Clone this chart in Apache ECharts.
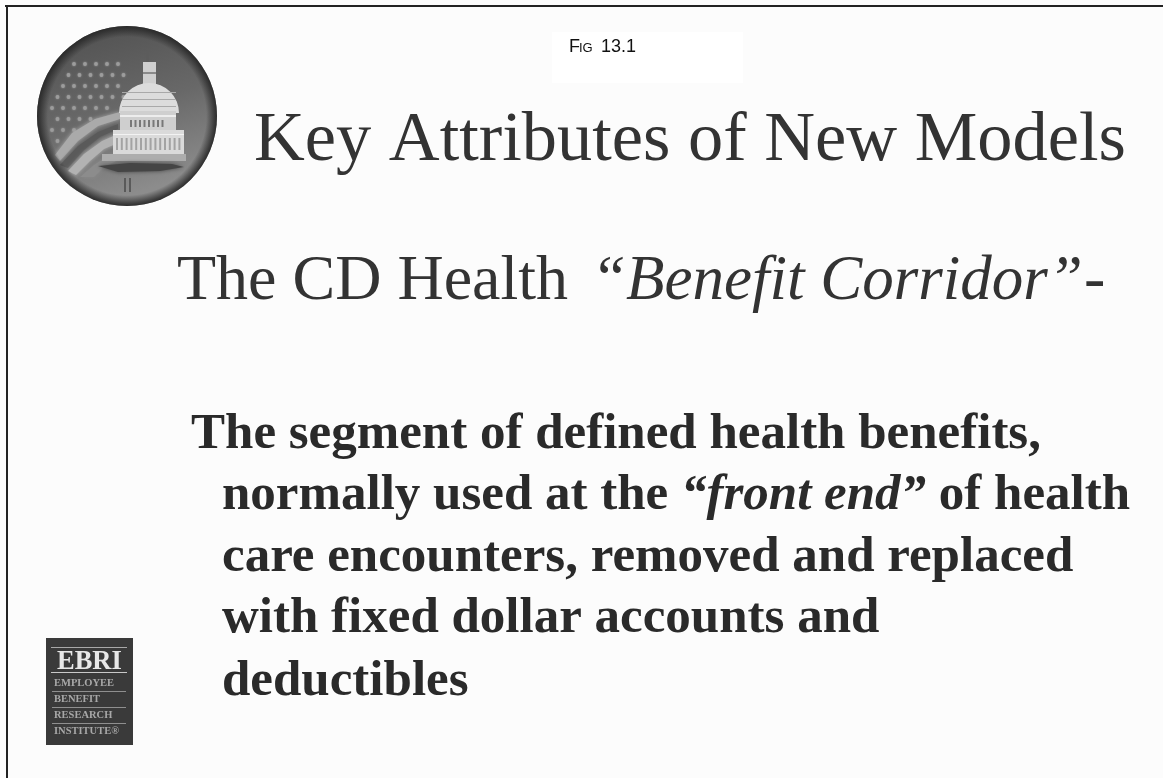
<!DOCTYPE html>
<html>
<head>
<meta charset="utf-8">
<title>Fig 13.1</title>
<script src="https://cdn.jsdelivr.net/npm/echarts@6/dist/echarts.min.js"></script>
<style>
  html, body { margin: 0; padding: 0; background: #fcfcfc; }
  #chart { width: 1163px; height: 778px; filter: blur(0.45px); }
</style>
</head>
<body>
<div id="chart"></div>
<script>
const SERIF = '"Liberation Serif", "Times New Roman", serif'
const SANS = '"Liberation Sans", Arial, sans-serif'
const INK = '#333333'
const BOLD_INK = '#2a2a2a'
const PAPER = '#fcfcfc'

const figLabel = ['F', 'IG', '13.1']
const titleText = 'Key Attributes of New Models'
const subtitleParts = ['The CD Health', '“Benefit Corridor”', '-']
const bodyLine1 = 'The segment of defined health benefits,'
const bodyLine2 = ['normally used at the ', '“front end”', ' of health']
const bodyLine3 = 'care encounters, removed and replaced'
const bodyLine4 = 'with fixed dollar accounts and'
const bodyLine5 = 'deductibles'
const logoName = 'EBRI'
const logoLines = ['EMPLOYEE', 'BENEFIT', 'RESEARCH', 'INSTITUTE®']

// y is the baseline, the 0.2 is the descent below it for Liberation
function text(str, x, y, size, extra) {
  return {
    type: 'text',
    x, y: y + size * 0.2,
    style: Object.assign({
      text: str, fontFamily: SERIF, fontSize: size, fill: INK, verticalAlign: 'bottom'
    }, extra)
  }
}

function bold(str, x, y) {
  return text(str, x, y, 51, { fontWeight: 'bold', fill: BOLD_INK })
}

function rich(parts, x, y, size) {
  const str = parts.map((p, i) => `{${i % 2 ? 'it' : 'n'}|${p}}`).join('')
  const base = { fontFamily: SERIF, fontSize: size, fontWeight: 'bold', fill: BOLD_INK }
  return {
    type: 'text',
    x, y: y - size * 0.81,
    style: { text: str, rich: { n: base, it: Object.assign({}, base, { fontStyle: 'italic' }) } }
  }
}

function box(x, y, width, height, fill) {
  return { type: 'rect', shape: { x, y, width, height }, style: { fill } }
}

// the round capitol seal, top left
function seal() {
  const els = [
    { type: 'circle', shape: { cx: 127, cy: 116, r: 90 }, style: {
      fill: { type: 'linear', x: 0, y: 0, x2: 0.3, y2: 1, colorStops: [
        { offset: 0, color: '#4e4e4e' }, { offset: 0.55, color: '#686868' }, { offset: 1, color: '#8c8c8c' }
      ] }
    } }
  ]
  // star field
  for (let row = 0; row < 8; row++) {
    for (let col = 0; col < 7; col++) {
      const cx = 52 + col * 11 + (row % 2) * 5.5
      const cy = 64 + row * 11
      const inside = Math.hypot(cx - 127, cy - 116) < 80
      if (inside && cy < 146 - (cx - 50) * 0.62) {
        els.push({ type: 'circle', shape: { cx, cy, r: 1.9 }, style: { fill: '#9c9c9c', shadowBlur: 2, shadowColor: '#9c9c9c' } })
      }
    }
  }
  // flag stripes
  const stripe = (d, fill) => ({ type: 'polygon', shape: { points: d }, style: { fill, shadowBlur: 4, shadowColor: fill } })
  els.push(stripe([[55, 155], [72, 133], [95, 119], [120, 112], [120, 119], [98, 126], [78, 141], [60, 161]], '#aaaaaa'))
  els.push(stripe([[60, 165], [78, 146], [98, 132], [118, 124], [118, 129], [100, 137], [84, 150], [68, 168]], '#5a5a5a'))
  els.push(stripe([[68, 171], [84, 154], [102, 141], [118, 134], [118, 143], [104, 149], [90, 161], [76, 175]], '#b2b2b2'))
  els.push(stripe([[80, 177], [94, 165], [108, 156], [116, 153], [116, 161], [104, 167], [94, 177]], '#8c8c8c'))
  // capitol building
  els.push(box(146, 52, 3, 12, '#5c5c5c'))
  els.push(box(143, 62, 13, 22, '#cfcfcf'))
  els.push(box(143, 72, 13, 2, '#8a8a8a'))
  els.push({ type: 'sector', shape: { cx: 149, cy: 113, r: 30, r0: 0, startAngle: Math.PI, endAngle: 0, clockwise: true }, style: { fill: '#dcdcdc' } })
  for (let i = 0; i < 3; i++) els.push(box(122, 92 + i * 7, 54, 1, '#a9a9a9'))
  els.push(box(120, 111, 56, 19, '#cfcfcf'))
  els.push(box(120, 115, 56, 2, '#ededed'))
  for (let i = 0; i < 8; i++) els.push(box(130 + i * 4.5, 120, 2, 7, '#787878'))
  els.push(box(113, 130, 71, 24, '#dadada'))
  els.push(box(113, 134, 71, 1, '#f2f2f2'))
  for (let i = 0; i < 14; i++) els.push(box(116 + i * 4.8, 138, 2, 12, '#a3a3a3'))
  els.push(box(102, 154, 84, 7, '#adadad'))
  els.push(stripe([[98, 166], [130, 163], [172, 164], [184, 167], [160, 171], [118, 172]], '#454545'))
  els.push(box(124, 178, 2, 14, '#5a5a5a'))
  els.push(box(129, 178, 2, 14, '#5a5a5a'))
  // soft dark rim goes on top of everything inside the seal
  els.push({ type: 'circle', shape: { cx: 127, cy: 116, r: 90 }, style: {
    fill: { type: 'radial', x: 0.5, y: 0.5, r: 0.5, colorStops: [
      { offset: 0, color: 'rgba(40,40,40,0)' }, { offset: 0.88, color: 'rgba(40,40,40,0)' },
      { offset: 0.97, color: 'rgba(40,40,40,0.75)' }, { offset: 1, color: 'rgba(40,40,40,0.95)' }
    ] }
  } })
  return els
}

// EBRI logo, bottom left
function logo() {
  const els = [
    box(46, 638, 87, 107, '#3a3a3a'),
    box(51, 647, 76, 1, '#a9a9a9'),
    box(51, 672, 76, 1, '#c9c9c9'),
    text(logoName, 57, 670, 26.5, { fontWeight: 'bold', fill: '#e8e8e8' })
  ]
  logoLines.forEach((line, i) => {
    els.push(text(line, 54, 687 + i * 16, 10.5, { fill: '#a8a8a8', fontWeight: 'bold' }))
    if (i < 3) els.push(box(52, 691 + i * 16, 74, 1, '#8f8f8f'))
  })
  return els
}

const elements = [
  // page border, top and left only
  box(5, 5, 1158, 2, '#222222'),
  box(6, 5, 2, 773, '#222222'),
  // white patch under the figure label
  box(552, 32, 191, 51, '#ffffff'),
  text(figLabel[0], 569, 52, 18, { fontFamily: SANS, fill: '#111111' }),
  text(figLabel[1], 579, 52, 13, { fontFamily: SANS, fill: '#111111' }),
  text(figLabel[2], 601, 52, 18, { fontFamily: SANS, fill: '#111111' }),
  ...seal(),
  text(titleText, 254, 162, 70.4),
  text(subtitleParts[0], 177, 301, 64),
  text(subtitleParts[1], 591, 301, 63, { fontStyle: 'italic' }),
  text(subtitleParts[2], 1084, 301, 64),
  bold(bodyLine1, 191, 450),
  rich(bodyLine2, 222, 512, 51),
  bold(bodyLine3, 222, 573),
  bold(bodyLine4, 222, 634),
  bold(bodyLine5, 222, 697),
  ...logo()
]

const chart = echarts.init(document.getElementById('chart'))
chart.setOption({
  animation: false,
  backgroundColor: PAPER,
  graphic: { elements }
})
</script>
</body>
</html>
